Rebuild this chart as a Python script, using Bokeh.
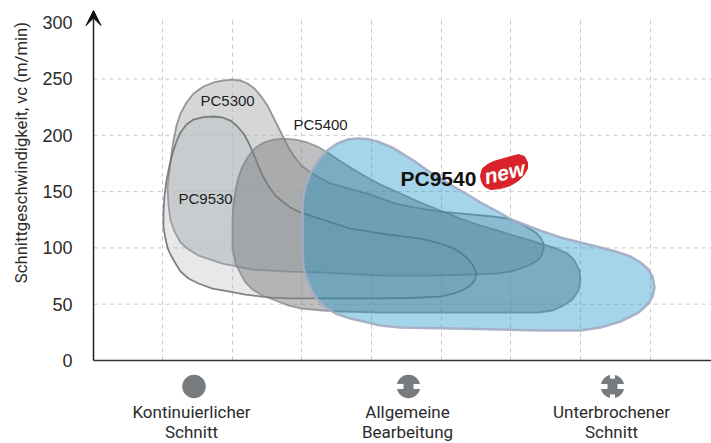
from bokeh.plotting import figure
from bokeh.embed import file_html
from bokeh.resources import INLINE
from bokeh.core.properties import value
from bokeh.models import Arrow, VeeHead, FixedTicker, Range1d

# speed axis (m/min) and cutting-range position axis (0..618, unitless)
speed_ticks = [0, 50, 100, 150, 200, 250, 300]
grid_speeds = [50, 100, 150, 200, 250]
grid_positions = [69, 139, 208, 278, 348, 417, 487, 557]

category_line1 = ["Kontinuierlicher", "Allgemeine", "Unterbrochener"]
category_line2 = ["Schnitt", "Bearbeitung", "Schnitt"]
category_x = [98, 314, 518]
icon_x = [100.5, 315, 519]

pc9530_x = [70,71,73,76,79,83,87,93,100,110,120,129,137,144,150,155,160,165,170,176,182,189,197,205,214,235,257,287,320,335,347,358,367,374,379,382,383,381,377,369,360,347,317,287,237,195,177,152,135,119,105,95,87,82,77,74,72,70]
pc9530_v = [130.5,146.5,159.8,173.2,183.8,194.5,202.5,209.6,214.0,216.2,216.7,215.8,213.1,207.8,201.6,193.6,183.8,172.3,162.5,153.6,146.5,141.2,135.9,132.3,129.6,123.4,117.2,112.8,109.2,106.6,103.9,100.3,95.9,90.6,85.2,79.9,76.4,71.0,66.6,62.2,59.5,56.8,55.5,55.1,55.1,55.1,55.9,58.6,61.3,63.9,68.4,72.8,79.0,86.1,94.1,100.3,108.3,118.1]

pc5300_x = [76,78,80,83,87,93,100,110,120,129,139,147,154,161,167,174,180,185,190,195,200,208,217,227,237,255,274,287,302,320,347,380,399,414,425,434,442,447,450,450,448,444,437,427,417,404,382,337,287,232,195,159,129,105,95,87,81,77,75,74]
pc5300_v = [168.7,183.8,195.4,208.7,219.3,229.1,237.1,243.3,246.9,248.6,249.5,248.6,246.0,241.5,235.3,226.4,215.8,206.9,198.0,189.1,182.0,173.2,166.9,161.6,157.2,152.7,148.3,143.9,139.4,135.9,132.3,129.6,127.9,126.1,122.5,118.1,113.7,109.2,103.9,98.6,93.2,88.8,85.2,81.7,79.0,77.3,76.4,75.5,75.5,78.1,79.0,80.8,86.1,93.2,98.6,104.8,114.6,124.3,137.6,153.6]

pc5400_x = [140,142,144,148,154,161,170,180,190,202,214,224,234,246,257,272,287,307,327,347,367,387,407,420,437,450,463,474,481,486,487,485,479,470,459,445,407,347,287,247,229,207,195,182,169,159,152,147,142,139,139,139]
pc5400_v = [139.4,151.0,159.8,170.5,180.3,188.3,193.6,196.2,197.1,196.2,193.6,190.0,184.7,177.6,171.4,163.4,156.3,148.3,140.3,133.2,126.1,119.9,114.6,111.0,106.6,103.0,99.5,95.0,88.8,79.9,71.0,62.2,54.2,48.8,44.4,42.6,42.6,42.6,42.6,43.5,44.4,46.2,48.8,53.3,57.7,63.0,69.3,77.3,86.1,99.5,112.8,126.1]

pc9540_x = [209,210,213,217,222,227,235,244,254,264,274,284,299,312,323,334,347,360,374,387,404,420,447,467,487,507,522,537,547,554,559,561,559,554,545,527,507,487,447,407,357,307,287,257,242,232,224,219,214,210,209,209]
pc9540_v = [133.2,146.5,157.2,166.1,174.0,180.3,187.4,192.7,196.2,197.1,196.7,194.5,189.1,182.0,175.8,168.7,161.6,154.5,147.4,140.3,132.3,124.3,115.4,109.2,104.8,100.3,96.8,92.4,87.0,81.7,74.6,64.8,56.8,49.7,42.6,34.6,29.3,26.6,26.6,27.5,28.4,29.3,31.1,37.3,41.7,47.1,54.2,60.4,71.0,82.6,97.7,115.4]

badge_x = [387,389,394,400,414,425,431,434,434,430,425,417,407,397,391,388]
badge_v = [164.3,170.5,174.0,176.7,180.3,182.9,181.2,175.8,170.5,164.3,159.8,155.4,152.7,151.8,154.5,159.0]

FONT = "Liberation Sans"
TALL = "Roboto"
INK = "#2b2b2b"

p = figure(width=711, height=443, output_backend="svg", toolbar_location=None,
           x_range=Range1d(-93, 618), y_range=Range1d(-73.7, 319.7),
           min_border_left=0, min_border_right=0, min_border_top=0, min_border_bottom=0)
p.outline_line_color = None
p.background_fill_color = "white"

# axes, both pinned to the origin
p.xaxis.fixed_location = 0
p.xaxis.ticker = FixedTicker(ticks=[])
p.xaxis.bounds = (0, 618)
p.xaxis.major_tick_line_color = None
p.xaxis.minor_tick_line_color = None
p.xaxis.axis_line_color = "#333333"
p.xaxis.axis_line_width = 1.5

p.yaxis.fixed_location = 0
p.yaxis.ticker = FixedTicker(ticks=speed_ticks)
p.yaxis.bounds = (0, 300)
p.yaxis.axis_line_color = None
p.yaxis.major_tick_line_color = None
p.yaxis.minor_tick_line_color = None
p.yaxis.major_label_standoff = 15
p.yaxis.major_label_text_font = FONT
p.yaxis.major_label_text_font_size = "18px"
p.yaxis.major_label_text_color = INK

p.text(x=[-72], y=[184.7], text=["Schnittgeschwindigkeit, vc (m/min)"], angle=[90], angle_units="deg",
       text_font=value(TALL), text_font_size="16.7px", text_color=INK, text_align="center", text_baseline="middle")

p.add_layout(Arrow(end=VeeHead(size=15, fill_color="#111111", line_color="#111111"),
                   x_start=0, y_start=0, x_end=0, y_end=310.8,
                   line_color="#222222", line_width=1.5))

# dashed grid, limited to the plotted area
p.xgrid.visible = False
p.ygrid.visible = False
GRID = dict(line_color="#c8c8c8", line_width=1, line_dash="4 4", level="underlay")
p.segment(x0=grid_positions, y0=[0] * len(grid_positions), x1=grid_positions, y1=[303] * len(grid_positions), **GRID)
p.segment(x0=[0] * len(grid_speeds), y0=grid_speeds, x1=[618] * len(grid_speeds), y1=grid_speeds, **GRID)

# machining ranges
p.patch(pc5300_x, pc5300_v, fill_color="#b9bcbc", fill_alpha=0.60, line_color="#7d7f81", line_alpha=0.8, line_width=1.8, line_join="round")
p.patch(pc9530_x, pc9530_v, fill_color="#afb3b8", fill_alpha=0.30, line_color="#6b6d6f", line_alpha=0.85, line_width=1.8, line_join="round")
p.patch(pc5400_x, pc5400_v, fill_color="#7d7f82", fill_alpha=0.50, line_color="#7d7f81", line_alpha=0.7, line_width=1.8, line_join="round")
p.patch(pc9540_x, pc9540_v, fill_color="#058bc5", fill_alpha=0.36, line_color="#a4aec4", line_alpha=0.95, line_width=2.5, line_join="round")

# labels
p.text(x=[107], y=[230.9], text=["PC5300"], text_font=value(FONT), text_font_size="15px", text_color="#1e1e1e", text_baseline="middle")
p.text(x=[200], y=[209.6], text=["PC5400"], text_font=value(FONT), text_font_size="15px", text_color="#1e1e1e", text_baseline="middle")
p.text(x=[85], y=[143.9], text=["PC9530"], text_font=value(FONT), text_font_size="15px", text_color="#1e1e1e", text_baseline="middle")
p.text(x=[307], y=[161.6], text=["PC9540"], text_font=value(FONT), text_font_size="21px", text_font_style="bold", text_color="#111111", text_baseline="middle")

# "new" badge
p.patch(badge_x, badge_v, fill_color="#d8232a", line_color="#d8232a", line_width=1, line_join="round")
p.text(x=[411], y=[167], text=["new"], angle=[13], angle_units="deg", text_font=value(FONT), text_font_size="21px",
       text_font_style="bold italic", text_color="white", text_align="center", text_baseline="middle")

# cutting-type icons and captions
p.scatter(x=icon_x, y=[-23.1] * 3, marker="circle", size=23.5, fill_color="#797c7f", line_color=None)
# notches of the interrupted-cut inserts
p.rect(x=[icon_x[1] - 9, icon_x[1] + 9, icon_x[2] - 9, icon_x[2] + 9], y=[-23.1] * 4,
       width=[8] * 4, height=[5] * 4, width_units="screen", height_units="screen", fill_color="white", line_color=None)
p.rect(x=[icon_x[2], icon_x[2]], y=[-12.5, -33.7], width=[5, 5], height=[8, 8],
       width_units="screen", height_units="screen", fill_color="white", line_color=None)

CAPTION = dict(text_font=value(TALL), text_font_size="17px", text_color=INK, text_align="center", text_baseline="middle")
p.text(x=category_x, y=[-45.3] * 3, text=category_line1, **CAPTION)
p.text(x=category_x, y=[-63.9] * 3, text=category_line2, **CAPTION)

open("out.html", "w").write(file_html(p, INLINE))
